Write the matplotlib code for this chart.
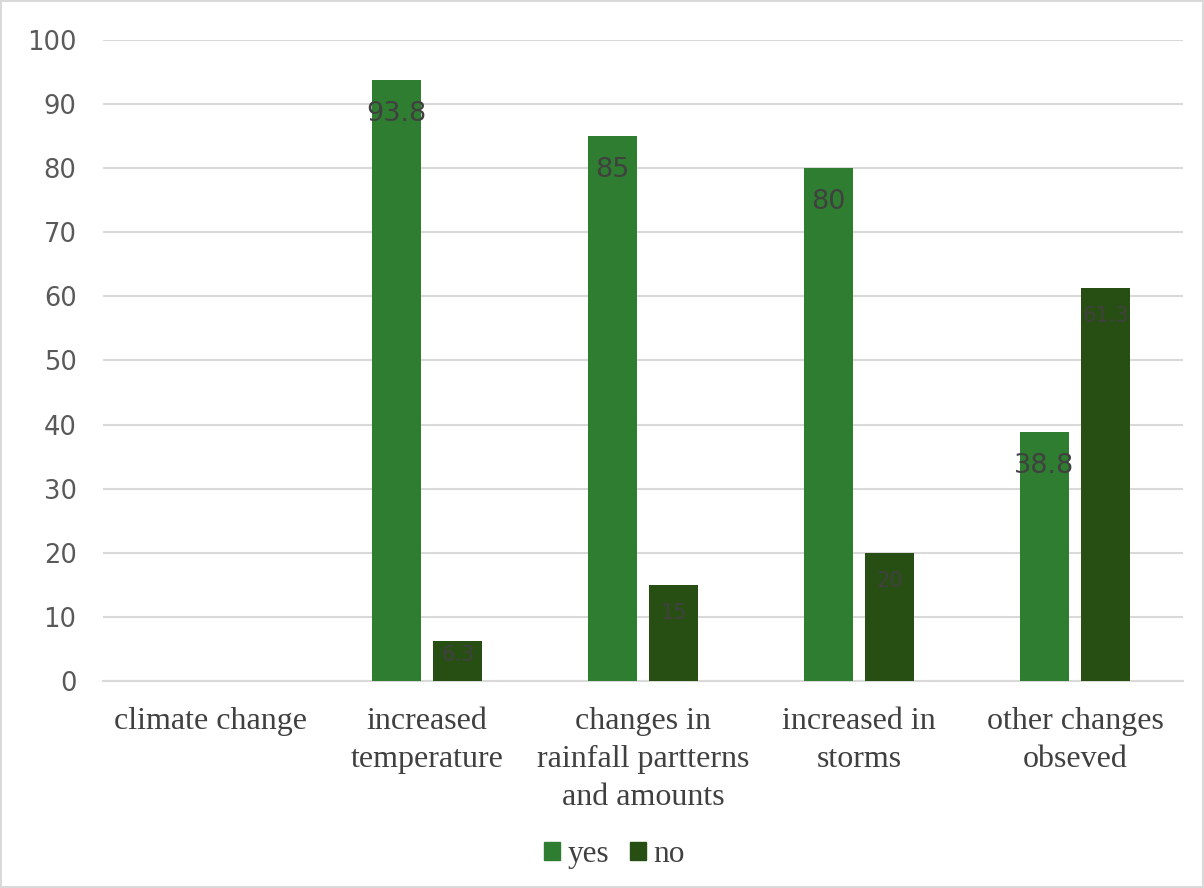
import matplotlib.pyplot as plt
import numpy as np

categories = ['climate change', 'increased\ntemperature', 'changes in\nrainfall partterns\nand amounts',
              'increased in\nstorms', 'other changes\nobseved']
yes_vals = [np.nan, 93.8, 85, 80, 38.8]
no_vals = [np.nan, 6.3, 15, 20, 61.3]
yes_labels = ['', '93.8', '85', '80', '38.8']
no_labels = ['', '6.3', '15', '20', '61.3']
yticks = [0, 10, 20, 30, 40, 50, 60, 70, 80, 90, 100]

c_yes = '#2e7d30'
c_no = '#284f13'

fig = plt.figure(figsize=(12.04, 8.88), dpi=100)
fig.patch.set_edgecolor('#d9d9d9')
fig.patch.set_linewidth(1.5)
ax = fig.add_axes([0.0855, 0.2331, 0.8971, 0.7219])

x = np.arange(len(categories))
w = 0.227
off = 0.143
b1 = ax.bar(x - off, yes_vals, w, color=c_yes, zorder=3)
b2 = ax.bar(x + off, no_vals, w, color=c_no, zorder=3)

# data labels, inside end like excel
for rect, lab in zip(b1, yes_labels):
    if lab:
        ax.annotate(lab, (rect.get_x() + rect.get_width() / 2, rect.get_height()),
                    xytext=(0, -24.5), textcoords='offset points', ha='center', va='center',
                    fontsize=19.5, color='#404040', zorder=4)
for rect, lab in zip(b2, no_labels):
    if lab:
        dy = -10 if rect.get_height() < 10 else -20
        ax.annotate(lab, (rect.get_x() + rect.get_width() / 2, rect.get_height()),
                    xytext=(0, dy), textcoords='offset points', ha='center', va='center',
                    fontsize=15, color='#404040', zorder=4)

ax.set_xlim(-0.5, len(categories) - 0.5)
ax.set_ylim(0, 100)
ax.set_yticks(yticks)
ax.yaxis.grid(True, color='#d9d9d9', lw=1.5, zorder=0)
for s in ['top', 'right', 'left']:
    ax.spines[s].set_visible(False)
ax.spines['bottom'].set_color('#d9d9d9')
ax.spines['bottom'].set_linewidth(1.5)
ax.tick_params(axis='y', length=0, labelsize=18.5, labelcolor='#595959', pad=19)
ax.tick_params(axis='x', length=0, pad=19)
ax.set_xticks(x)
ax.set_xticklabels(categories, fontsize=23, family='Liberation Serif', color='#404040',
                   linespacing=1.41, va='top')

handles = [plt.Rectangle((0, 0), 1, 1, color=c_yes), plt.Rectangle((0, 0), 1, 1, color=c_no)]
fig.legend(handles, ['yes', 'no'], loc='center', bbox_to_anchor=(0.5104, 0.038), ncol=2,
           frameon=False, prop={'family': 'Liberation Serif', 'size': 22.5},
           handlelength=0.51, handleheight=0.51, handletextpad=0.26, columnspacing=0.64,
           labelcolor='#404040')

fig.savefig('out.png', dpi=100)
